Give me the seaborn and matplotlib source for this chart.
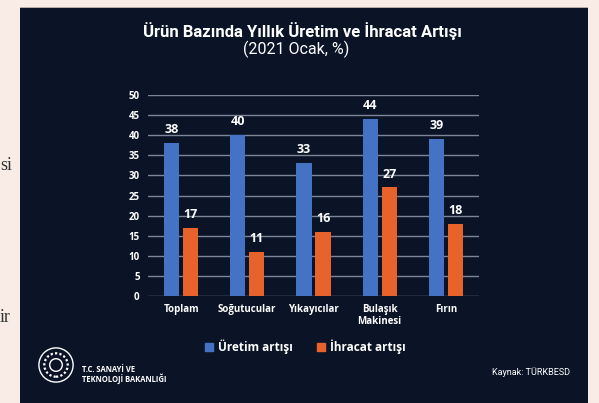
# Ürün bazında yıllık üretim ve ihracat artışı (2021 Ocak)
import pandas as pd
import matplotlib.pyplot as plt
import seaborn as sns
from matplotlib import font_manager
from matplotlib.patches import Rectangle, Circle
from matplotlib.lines import Line2D

# ------------------------------------------
# Data
# ------------------------------------------
categories = ["Toplam", "Soğutucular", "Yıkayıcılar", "Bulaşık\nMakinesi", "Fırın"]
uretim = [38, 40, 33, 44, 39]
ihracat = [17, 11, 16, 27, 18]
series = ["Üretim artışı", "İhracat artışı"]
yticks = [0, 5, 10, 15, 20, 25, 30, 35, 40, 45, 50]

df = pd.DataFrame({
    "Kategori": categories * 2,
    "Seri": [series[0]] * len(categories) + [series[1]] * len(categories),
    "Deger": uretim + ihracat,
})

# colours
blue = "#4472c4"
orange = "#e8632b"
navy = "#0b1427"
pink = "#f9ece6"

sns.set_theme(style="white")
names = {f.name for f in font_manager.fontManager.ttflist}
title_font = "Liberation Sans Narrow" if "Liberation Sans Narrow" in names else "Roboto"
plt.rcParams["font.family"] = ["Open Sans", "DejaVu Sans"]

W, H = 599, 403
fig = plt.figure(figsize=(W / 100, H / 100), dpi=100)
fig.patch.set_facecolor(pink)

# dark panel
fig.add_artist(Rectangle((20 / W, 0), (588 - 20) / W, (H - 7) / H,
                         transform=fig.transFigure, facecolor=navy,
                         edgecolor="none", zorder=0))
fig.add_artist(Rectangle((20 / W, (H - 8) / H), (588 - 20) / W, 1.2 / H,
                         transform=fig.transFigure, facecolor="#b9a9a6",
                         edgecolor="none", zorder=0))

# ------------------------------------------
# Bars
# ------------------------------------------
ax = fig.add_axes([148 / W, (H - 296) / H, (479 - 148) / W, (296 - 95) / H])
ax.set_facecolor("none")
sns.barplot(data=df, x="Kategori", y="Deger", hue="Seri", hue_order=series,
            palette={series[0]: blue, series[1]: orange}, width=0.575, gap=0.2,
            saturation=1, legend=False, linewidth=0, ax=ax, zorder=3)

for c in ax.containers:
    ax.bar_label(c, padding=5, color="white", fontsize=9, fontweight="bold")

ax.set_ylim(0, 50)
ax.set_xlim(-0.5, 4.5)
ax.set_yticks(yticks)
ax.yaxis.grid(True, color="#9ba3b4", linewidth=1, alpha=0.8, zorder=0)
ax.xaxis.grid(False)
for s in ax.spines.values():
    s.set_visible(False)
ax.set_xlabel("")
ax.set_ylabel("")
ax.tick_params(axis="y", colors="white", labelsize=7, pad=6, length=0)
ax.tick_params(axis="x", colors="white", labelsize=7, pad=6, length=0)
for lbl in ax.get_yticklabels() + ax.get_xticklabels():
    lbl.set_fontweight("bold")
    lbl.set_color("white")
for lbl in ax.get_xticklabels():
    lbl.set_linespacing(1.1)
    lbl.set_verticalalignment("top")

# ------------------------------------------
# Titles and legend
# ------------------------------------------
fig.text(302 / W, 1 - 31 / H, "Ürün Bazında Yıllık Üretim ve İhracat Artışı",
         ha="center", va="center", color="white", fontsize=12,
         fontweight="bold", family=[title_font, "DejaVu Sans"])
fig.text(296 / W, 1 - 49 / H, "(2021 Ocak, %)", ha="center", va="center",
         color="white", fontsize=11.5, family=[title_font, "DejaVu Sans"])

handles = [Line2D([], [], marker="s", linestyle="", markersize=5.5, color=blue),
           Line2D([], [], marker="s", linestyle="", markersize=5.5, color=orange)]
leg = fig.legend(handles, series, loc="center", bbox_to_anchor=(305 / W, 1 - 347 / H),
                 ncol=2, frameon=False, handletextpad=0.35, columnspacing=2.0,
                 handlelength=0.8, prop={"weight": "bold", "size": 8.5})
for t in leg.get_texts():
    t.set_color("white")

# logo + ministry name
emblem = fig.add_axes([38 / W, 1 - 383 / H, 36 / W, 36 / H])
emblem.set_xlim(-1, 1)
emblem.set_ylim(-1, 1)
emblem.set_aspect("equal")
emblem.axis("off")
emblem.add_patch(Circle((0, 0), 0.95, fill=False, edgecolor="white", lw=1))
emblem.add_patch(Circle((0, 0), 0.65, fill=False, edgecolor="white", lw=1.6, ls=(0, (1, 1))))
emblem.add_patch(Circle((0, 0), 0.35, fill=False, edgecolor="white", lw=1))
fig.text(82 / W, 1 - 369 / H, "T.C. SANAYİ VE", color="white", fontsize=5.5,
         fontweight="bold", va="center", ha="left")
fig.text(82 / W, 1 - 379 / H, "TEKNOLOJİ BAKANLIĞI", color="white", fontsize=5.5,
         fontweight="bold", va="center", ha="left")
fig.text(570 / W, 1 - 372 / H, "Kaynak: TÜRKBESD", color="white", fontsize=6.5,
         va="center", ha="right", family=[title_font, "DejaVu Sans"])

# page text peeking out on the left
fig.text(0, 1 - 166 / H, "si", color="#333333", fontsize=13, va="center",
         ha="left", family=["Liberation Serif", "DejaVu Serif"])
fig.text(0, 1 - 317 / H, "ir", color="#333333", fontsize=13, va="center",
         ha="left", family=["Liberation Serif", "DejaVu Serif"])

fig.savefig("out.png", dpi=100, facecolor=fig.get_facecolor())
